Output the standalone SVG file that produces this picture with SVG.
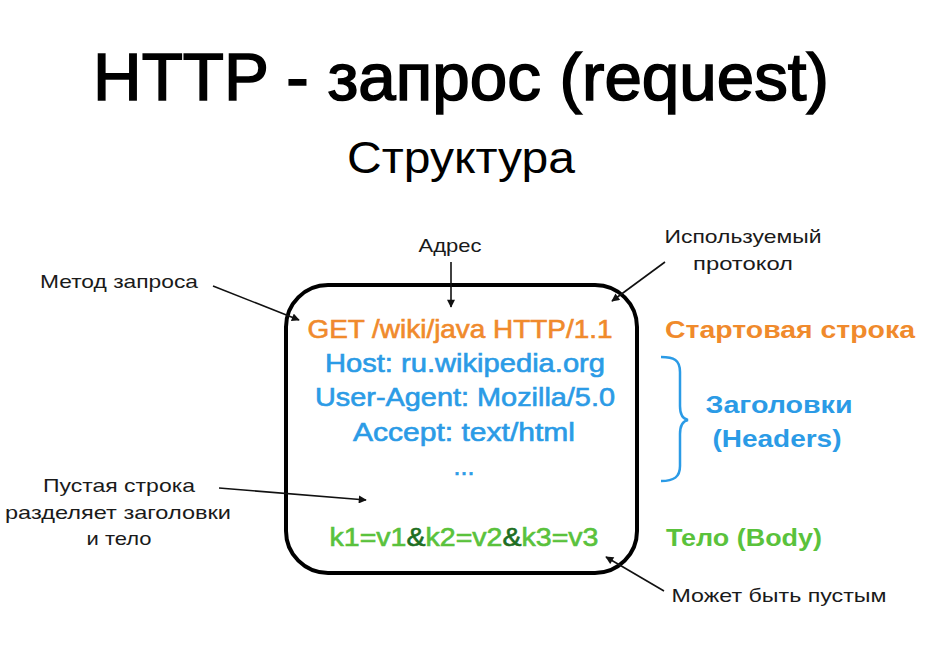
<svg xmlns="http://www.w3.org/2000/svg" width="930" height="666" viewBox="0 0 930 666">
  <defs>
    <marker id="arrow" viewBox="0 0 10 10" refX="9" refY="5" markerWidth="9" markerHeight="8" markerUnits="userSpaceOnUse" orient="auto">
      <path d="M0,0 L10,5 L0,10 Z" fill="#111"/>
    </marker>
    <style>
      text { font-family: "Liberation Sans", Arial, sans-serif; }
      .title { font-size: 67px; fill: #000; stroke: #000; stroke-width: 1.6px; text-anchor: middle; }
      .sub { font-size: 44px; fill: #000; text-anchor: middle; }
      .code { font-size: 25px; text-anchor: middle; stroke-width: 0.6px; }
      .orange { fill: #F08A2C; stroke: #F08A2C; }
      .blue { fill: #2B9BE6; stroke: #2B9BE6; }
      .green { fill: #5AC23C; stroke: #5AC23C; }
      .dkgreen { fill: #1E6E22; stroke: #1E6E22; }
      .lbl { font-size: 24px; font-weight: bold; stroke-width: 0; }
      .note { font-size: 19px; fill: #1a1a1a; text-anchor: middle; }
      .conn { stroke: #111; stroke-width: 1.6; fill: none; marker-end: url(#arrow); }
    </style>
  </defs>

  <rect width="930" height="666" fill="#fff"/>

  <g id="title">
    <text class="title" x="461" y="100" textLength="736" lengthAdjust="spacingAndGlyphs">HTTP - запрос (request)</text>
    <text class="sub" x="461" y="173" textLength="228" lengthAdjust="spacingAndGlyphs">Структура</text>
  </g>

  <g id="request-box">
    <rect x="286" y="285" width="351" height="288" rx="42" ry="42" fill="none" stroke="#000" stroke-width="4"/>
    <text class="code orange" x="460" y="338" textLength="305" lengthAdjust="spacingAndGlyphs">GET /wiki/java HTTP/1.1</text>
    <text class="code blue" x="465" y="372" textLength="280" lengthAdjust="spacingAndGlyphs">Host: ru.wikipedia.org</text>
    <text class="code blue" x="465" y="406" textLength="300" lengthAdjust="spacingAndGlyphs">User-Agent: Mozilla/5.0</text>
    <text class="code blue" x="464" y="441" textLength="222" lengthAdjust="spacingAndGlyphs">Accept: text/html</text>
    <text class="code blue" x="464" y="475">...</text>
    <text class="code green" x="464" y="546" textLength="269" lengthAdjust="spacingAndGlyphs">k1=v1<tspan class="dkgreen">&amp;</tspan>k2=v2<tspan class="dkgreen">&amp;</tspan>k3=v3</text>
  </g>

  <g id="start-line-label">
    <text class="lbl orange" x="665" y="338" textLength="250" lengthAdjust="spacingAndGlyphs">Стартовая строка</text>
  </g>

  <g id="headers-label">
    <path d="M661,357 C674,357 680,360 680,372 L680,406 C680,414 683,419 688,420 C683,421 680,426 680,434 L680,466 C680,477 674,481 661,481" fill="none" stroke="#2B9BE6" stroke-width="2.5"/>
    <text class="lbl blue" x="779" y="413" text-anchor="middle" textLength="147" lengthAdjust="spacingAndGlyphs">Заголовки</text>
    <text class="lbl blue" x="777" y="447" text-anchor="middle" textLength="129" lengthAdjust="spacingAndGlyphs">(Headers)</text>
  </g>

  <g id="body-label">
    <text class="lbl green" x="666" y="546" textLength="156" lengthAdjust="spacingAndGlyphs">Тело (Body)</text>
  </g>

  <g id="method-note">
    <text class="note" x="119" y="288" textLength="158" lengthAdjust="spacingAndGlyphs">Метод запроса</text>
  </g>
  <g id="address-note">
    <text class="note" x="450" y="252" textLength="63" lengthAdjust="spacingAndGlyphs">Адрес</text>
  </g>
  <g id="protocol-note">
    <text class="note" x="743" y="243" textLength="157" lengthAdjust="spacingAndGlyphs">Используемый</text>
    <text class="note" x="743" y="270" textLength="100" lengthAdjust="spacingAndGlyphs">протокол</text>
  </g>
  <g id="empty-line-note">
    <text class="note" x="119" y="492" textLength="152" lengthAdjust="spacingAndGlyphs">Пустая строка</text>
    <text class="note" x="118" y="519" textLength="226" lengthAdjust="spacingAndGlyphs">разделяет заголовки</text>
    <text class="note" x="119" y="545" textLength="65" lengthAdjust="spacingAndGlyphs">и тело</text>
  </g>
  <g id="empty-body-note">
    <text class="note" x="779" y="602" textLength="215" lengthAdjust="spacingAndGlyphs">Может быть пустым</text>
  </g>

  <g id="connectors">
    <line class="conn" x1="213" y1="286" x2="299" y2="320"/>
    <line class="conn" x1="451" y1="262" x2="451" y2="307"/>
    <line class="conn" x1="665" y1="262" x2="612" y2="301"/>
    <line class="conn" x1="219" y1="488" x2="366" y2="500"/>
    <line class="conn" x1="664" y1="591" x2="606" y2="557"/>
  </g>
</svg>
